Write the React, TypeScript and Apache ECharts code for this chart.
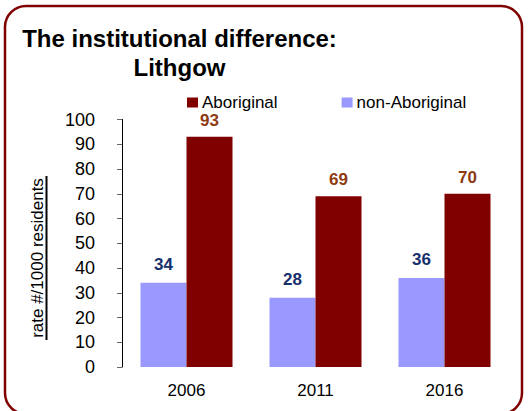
import React, { useEffect, useRef } from "react";
import * as echarts from "echarts";

const categories = ["2006", "2011", "2016"];
const aboriginal = [93, 69, 70];
const nonAboriginal = [34, 28, 36];
const yTicks = { min: 0, max: 100, interval: 10 };
const titleLines = ["The institutional difference:", "Lithgow"];
const yAxisTitle = "rate #/1000 residents";

const FONT = "'Liberation Sans', Arial, sans-serif";

export default function App() {
  const ref = useRef<HTMLDivElement>(null);
  useEffect(() => {
    if (!ref.current) return;
    const chart = echarts.init(ref.current, null, { renderer: "svg" });
    chart.setOption({
      animation: false,
      backgroundColor: "#ffffff",
      textStyle: { fontFamily: FONT },
      grid: { left: 122, right: 19, top: 119.5, bottom: 44, containLabel: false },
      legend: {
        data: ["Aboriginal", "non-Aboriginal"],
        left: 182,
        top: 89,
        itemWidth: 11,
        itemHeight: 10,
        itemGap: 64,
        icon: "rect",
        textStyle: { fontSize: 17, color: "#000", fontFamily: FONT, lineHeight: 13, padding: [0, 0, 0, -1] },
      },
      xAxis: {
        type: "category",
        data: categories,
        axisLine: { show: false },
        axisTick: { show: false },
        axisLabel: { fontSize: 17, color: "#000", margin: 15, fontFamily: FONT },
      },
      yAxis: {
        type: "value",
        min: yTicks.min,
        max: yTicks.max,
        interval: yTicks.interval,
        axisLine: { show: true, lineStyle: { color: "#000", width: 1 } },
        axisTick: { show: true, length: 5, lineStyle: { color: "#666" } },
        splitLine: { show: false },
        axisLabel: { fontSize: 18, color: "#000", margin: 27, fontFamily: FONT },
      },
      series: [
        {
          name: "non-Aboriginal",
          type: "bar",
          data: nonAboriginal,
          barWidth: 46,
          barGap: "0%",
          itemStyle: { color: "#9999FF" },
          label: {
            show: true,
            position: "top",
            distance: 11,
            color: "#17306B",
            fontWeight: "bold",
            fontSize: 17,
            lineHeight: 15,
            fontFamily: FONT,
          },
        },
        {
          name: "Aboriginal",
          type: "bar",
          data: aboriginal,
          barWidth: 46,
          barGap: "0%",
          itemStyle: { color: "#800000" },
          label: {
            show: true,
            position: "top",
            distance: 10,
            color: "#8E3B12",
            fontWeight: "bold",
            fontSize: 17,
            lineHeight: 13,
            fontFamily: FONT,
          },
        },
      ],
      graphic: [
        {
          type: "rect",
          shape: { x: 5, y: 6, width: 517, height: 408, r: 21 },
          style: { fill: "none", stroke: "#800000", lineWidth: 2.5 },
          silent: true,
        },
        {
          type: "text",
          x: 179.5,
          y: 38,
          style: {
            text: titleLines[0],
            fontSize: 24,
            fontWeight: "bold",
            fontFamily: FONT,
            fill: "#000",
            textAlign: "center",
            textVerticalAlign: "middle",
          },
        },
        {
          type: "text",
          x: 179.5,
          y: 67,
          style: {
            text: titleLines[1],
            fontSize: 24,
            fontWeight: "bold",
            fontFamily: FONT,
            fill: "#000",
            textAlign: "center",
            textVerticalAlign: "middle",
          },
        },
        {
          type: "text",
          x: 37,
          y: 258,
          rotation: Math.PI / 2,
          style: {
            text: yAxisTitle,
            fontSize: 17,
            fontFamily: FONT,
            fill: "#000",
            textAlign: "center",
            textVerticalAlign: "middle",
          },
        },
        {
          type: "line",
          shape: { x1: 46.5, y1: 176, x2: 46.5, y2: 340 },
          style: { stroke: "#000", lineWidth: 2 },
        },
      ],
    });
    return () => chart.dispose();
  }, []);
  return (
    <div
      ref={ref}
      style={{ position: "fixed", left: 0, top: 0, width: 528, height: 411 }}
    />
  );
}
